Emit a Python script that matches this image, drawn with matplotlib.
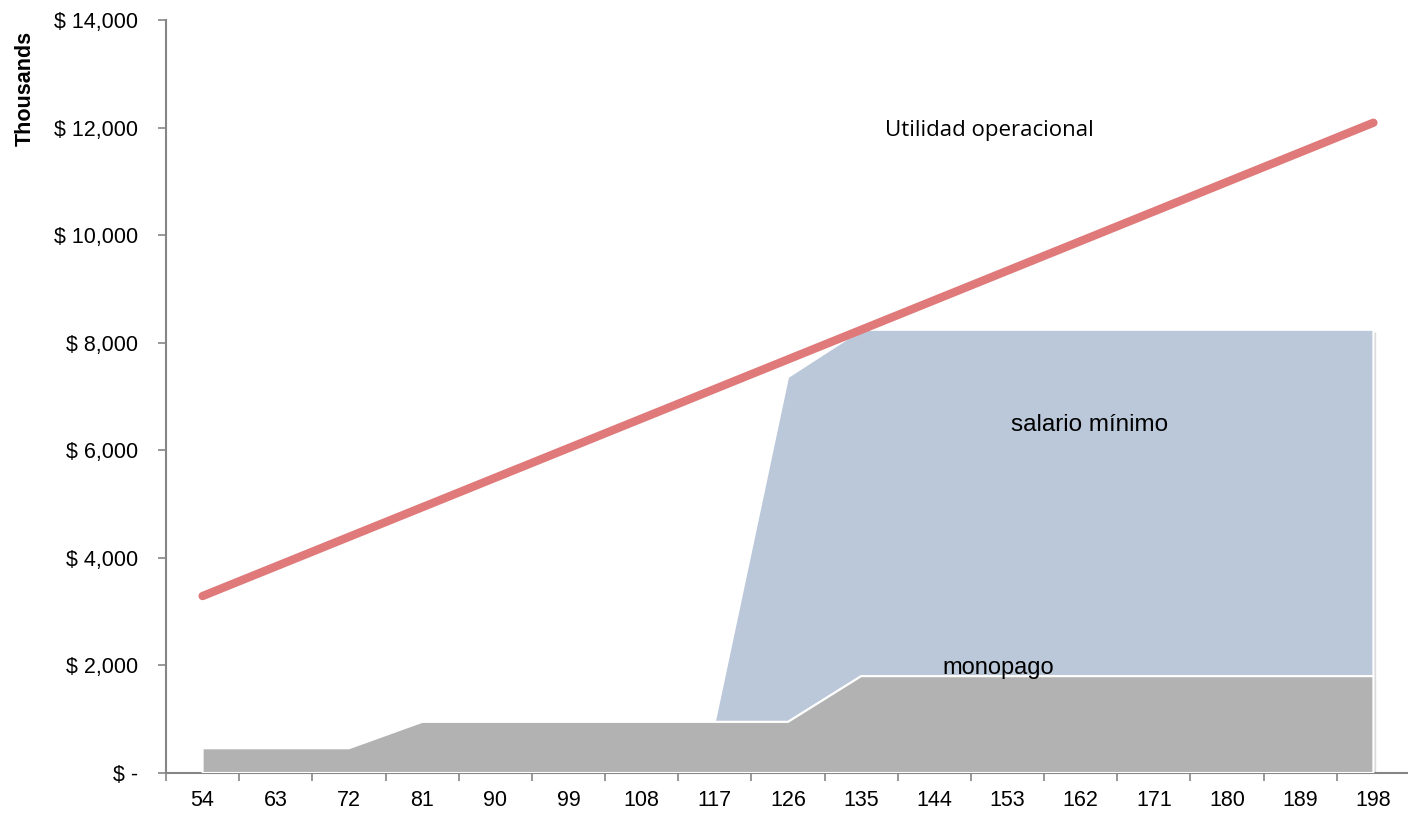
import matplotlib
matplotlib.use("Agg")
import matplotlib.pyplot as plt
import matplotlib.patheffects as pe
import numpy as np

categories = [54, 63, 72, 81, 90, 99, 108, 117, 126, 135, 144, 153, 162, 171, 180, 189, 198]
utilidad = [3290, 3840, 4390, 4940, 5490, 6040, 6590, 7140, 7690, 8240,
            8790, 9340, 9890, 10440, 10990, 11540, 12090]
monopago = [460, 460, 460, 950, 950, 950, 950, 950, 950, 1800,
            1800, 1800, 1800, 1800, 1800, 1800, 1800]
# salario mínimo, stacked on top of monopago
salario = [0, 0, 0, 0, 0, 0, 0, 0, 6410, 6440,
           6440, 6440, 6440, 6440, 6440, 6440, 6440]
yticks = [0, 2000, 4000, 6000, 8000, 10000, 12000, 14000]
ytick_labels = ["$ -", "$ 2,000", "$ 4,000", "$ 6,000", "$ 8,000", "$ 10,000", "$ 12,000", "$ 14,000"]

sans = ["Liberation Sans", "DejaVu Sans"]

fig = plt.figure(figsize=(14.08, 8.22), dpi=100)
ax = fig.add_axes([166/1408, 49/822, 1244/1408, 753/822])

idx = np.arange(len(categories))
mono = np.array(monopago, dtype=float)
sal = np.array(salario, dtype=float)
axis_col = "#868686"

shadow = [pe.SimplePatchShadow(offset=(2, -2), alpha=0.18), pe.Normal()]

# salario mínimo area (stacked), drawn from the last zero point onwards
start = int(np.argmax(sal > 0)) - 1
ax.fill_between(idx[start:], mono[start:], mono[start:] + sal[start:], color="#BBC8D9",
                edgecolor="white", linewidth=1.5, zorder=2, path_effects=shadow)
# monopago area
ax.fill_between(idx, 0, mono, color="#B2B2B2", edgecolor="white",
                linewidth=1.5, zorder=3, path_effects=shadow)
# utilidad line
ax.plot(idx, utilidad, color="#E07979", linewidth=6, solid_capstyle="round", zorder=4)

ax.set_xlim(-0.5, len(categories) - 0.5)
ax.set_ylim(0, 14000)

for s in ["top", "right"]:
    ax.spines[s].set_visible(False)
for s in ["left", "bottom"]:
    ax.spines[s].set_color(axis_col)
    ax.spines[s].set_linewidth(1.5)

ax.set_yticks(yticks)
ax.set_yticklabels(ytick_labels, fontfamily=sans, fontsize=15.5)
ax.tick_params(axis="y", length=6, width=1.2, color=axis_col, pad=14)

ax.set_xticks(np.arange(-0.5, len(categories) + 0.5, 1))
ax.set_xticklabels([])
ax.tick_params(axis="x", which="major", length=6, width=1.2, color=axis_col)
ax.set_xticks(idx, minor=True)
ax.set_xticklabels([str(c) for c in categories], minor=True, fontfamily=sans, fontsize=15.5)
ax.tick_params(axis="x", which="minor", length=0, pad=12)

fig.text(25/1408, 1 - 88/822, "Thousands", rotation=90, ha="center", va="center",
         fontfamily=sans, fontsize=15.5, fontweight="bold")

ax.text(10.75, 11950, "Utilidad operacional", ha="center", va="center",
        fontfamily=["Open Sans", "DejaVu Sans"], fontsize=16, zorder=5)
ax.text(12.12, 6470, "salario mínimo", ha="center", va="center",
        fontfamily=sans, fontsize=17.5, zorder=5)
ax.text(10.87, 1952, "monopago", ha="center", va="center",
        fontfamily=sans, fontsize=17, zorder=5)

fig.savefig("out.png", dpi=100)
